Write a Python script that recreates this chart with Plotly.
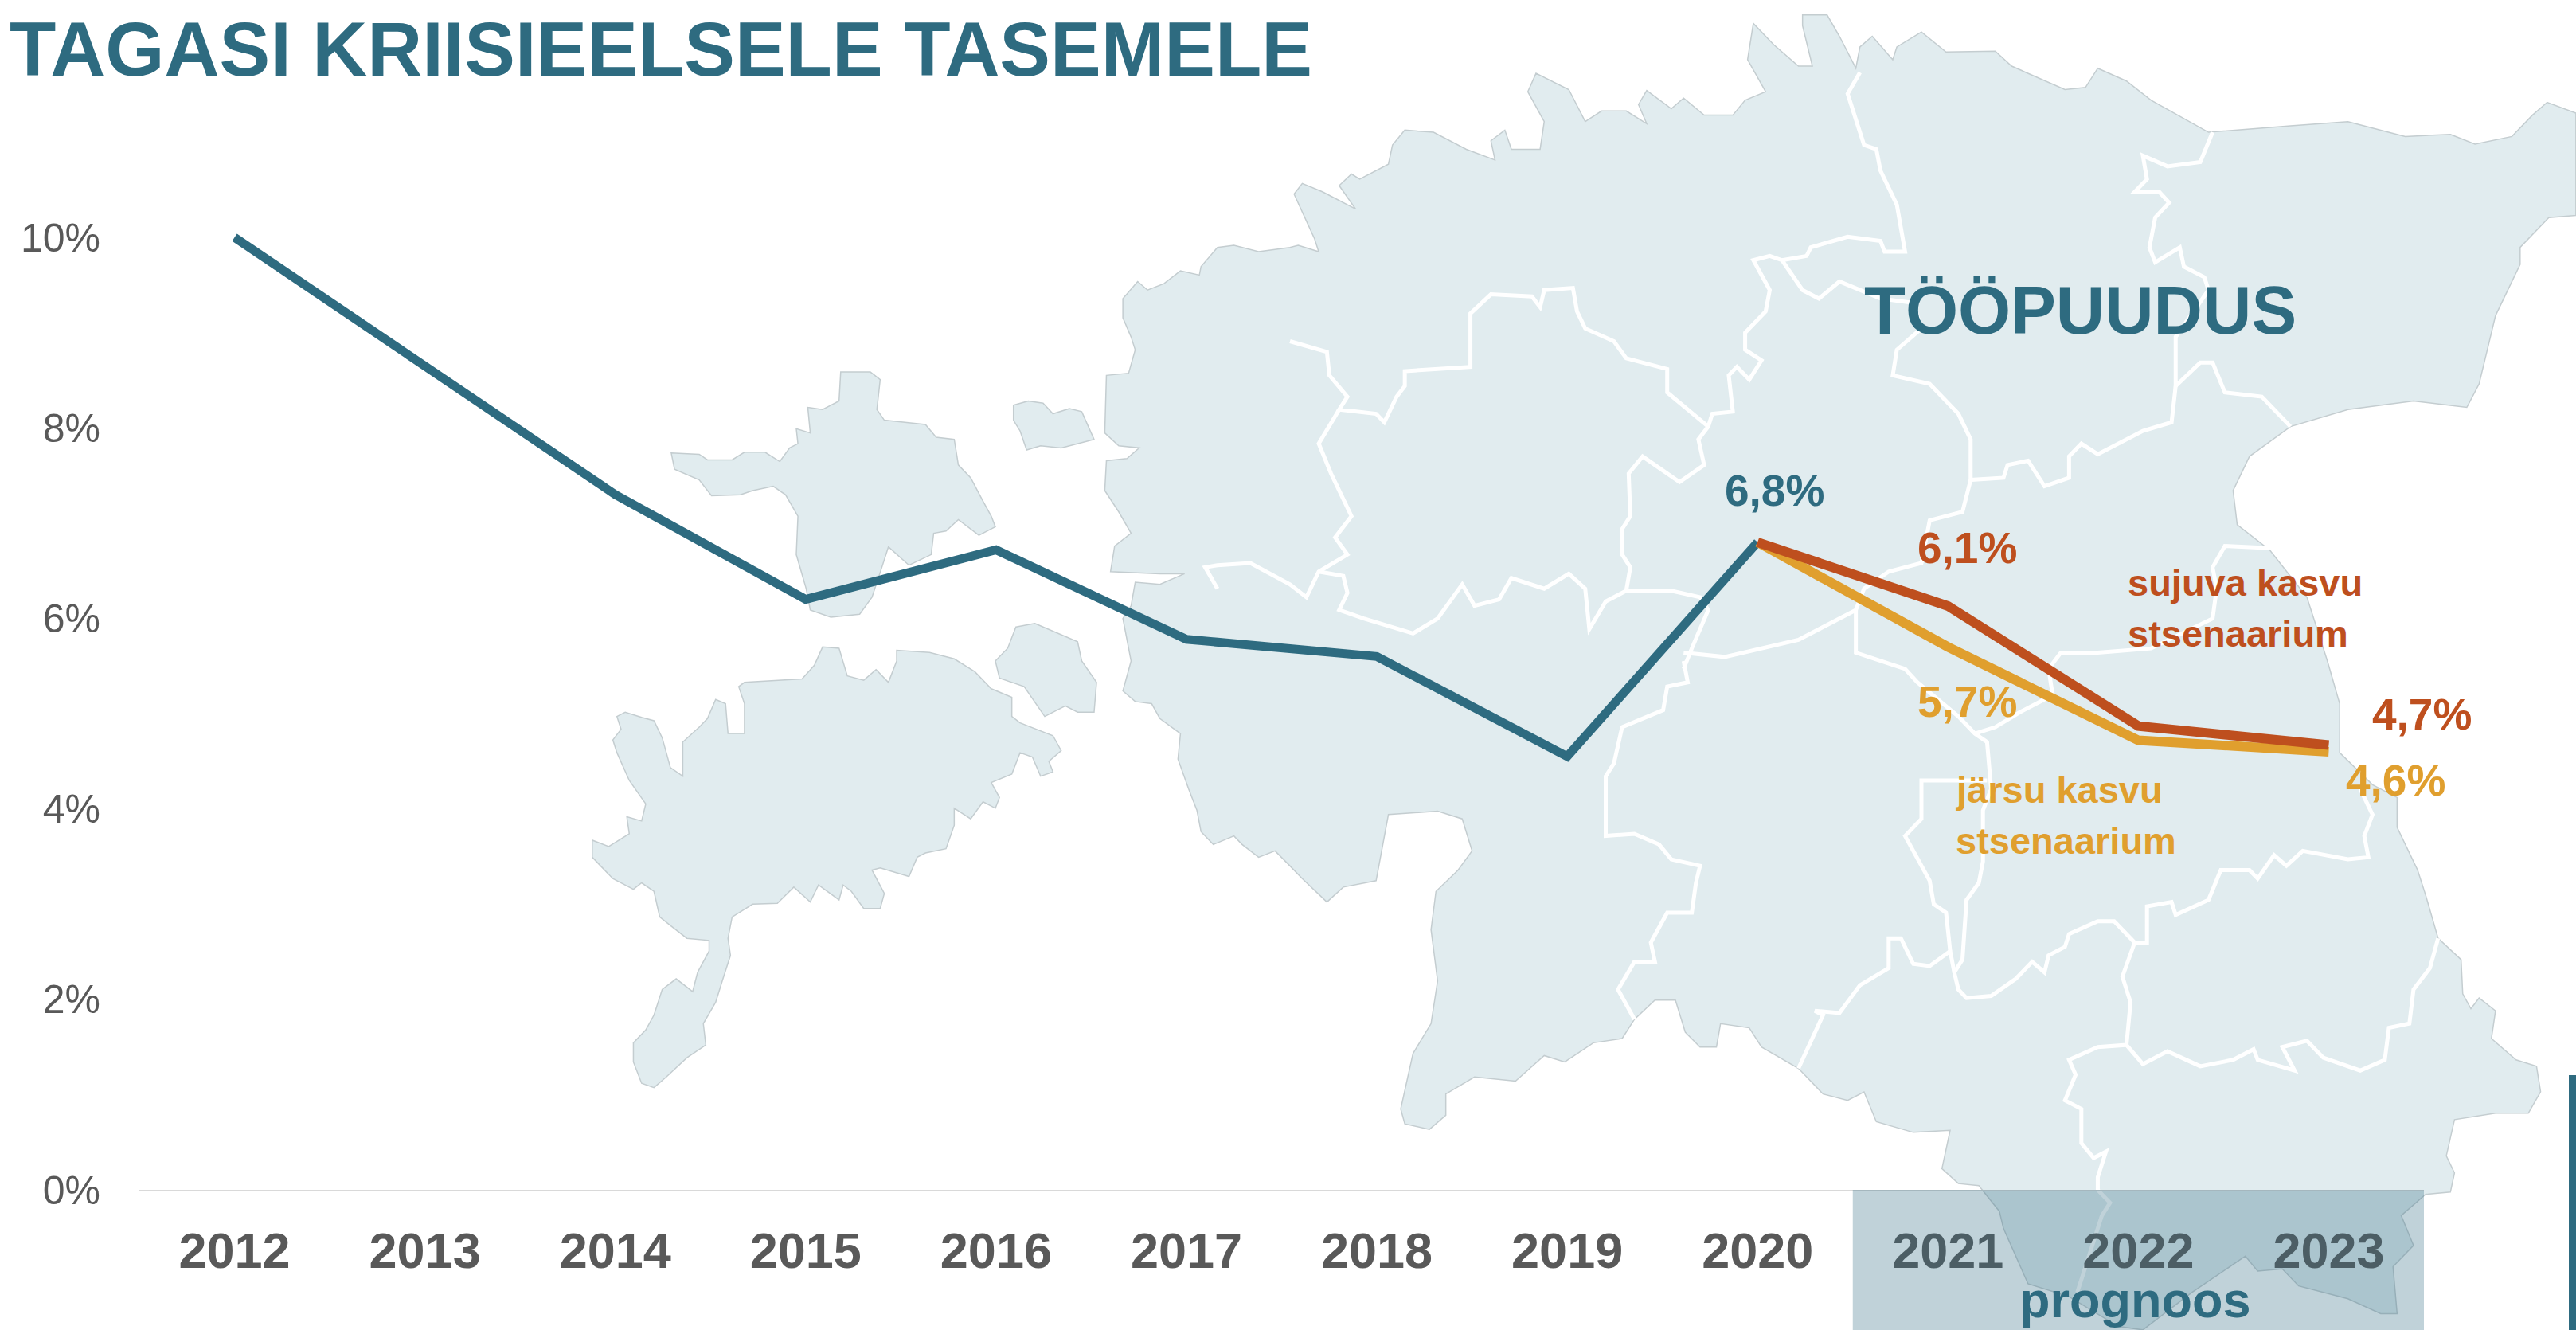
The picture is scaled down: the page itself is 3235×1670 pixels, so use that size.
import plotly.graph_objects as go

W, H = 3235, 1670
years = ["2012","2013","2014","2015","2016","2017","2018","2019","2020","2021","2022","2023"]
actual = [10.0, 8.65, 7.3, 6.2, 6.72, 5.78, 5.6, 4.55, 6.8]
smooth_years = ["2020","2021","2022","2023"]
smooth = [6.8, 6.13, 4.87, 4.67]
sharp = [6.8, 5.7, 4.72, 4.6]
y_ticks = [0, 2, 4, 6, 8, 10]
y_tick_labels = ["0%", "2%", "4%", "6%", "8%", "10%"]

TEAL, RED, GOLD, GREY = "#2E6B80", "#BE4F1E", "#E09F2E", "#595959"
LAND, COAST = "#E1ECEF", "#C4CDD0"
FONT = "Liberation Sans"

# ---- decorative background map (crop frames) ----
def f1(p): return [(x/0.968, y/1.867) for x, y in p]
def f2(p): return [(1620+x/0.971, y/1.867) for x, y in p]
def f3(p): return [(x/0.968, 830+y/1.867) for x, y in p]
def f4(p): return [(1620+x/0.971, 830+y/1.867) for x, y in p]

hiiumaa = f1([(816,1062),(850,1065),(860,1078),(890,1078),(905,1060),(930,1060),(948,1082),(960,1050),(970,1040),(968,1005),(985,1015),(982,955),(1000,960),(1020,940),(1022,872),(1058,872),(1070,890),(1066,960),(1075,985),(1100,990),(1125,995),(1138,1025),(1160,1030),(1165,1090),(1180,1120),(1195,1175),(1205,1210),(1210,1235),(1190,1255),(1165,1218),(1150,1245),(1135,1250),(1132,1300),(1105,1325),(1080,1282),(1072,1330),(1060,1400),(1045,1440),(1010,1447),(985,1430),(980,1380),(968,1300),(970,1210),(955,1160),(940,1140),(915,1150),(900,1160),(865,1162),(850,1125),(820,1100)])
vormsi = f1([(1232,950),(1250,940),(1268,945),(1280,970),(1300,958),(1315,965),(1330,1030),(1290,1050),(1265,1045),(1248,1055),(1240,1010),(1232,985)])
saaremaa = f3([(750,130),(760,120),(780,132),(795,140),(805,180),(815,250),(830,270),(830,190),(850,155),(860,135),(870,90),(882,100),(885,170),(905,170),(905,100),(898,60),(905,50),(975,42),(990,10),(1000,-33),(1020,-30),(1030,35),(1050,45),(1065,20),(1080,50),(1090,0),(1090,-25),(1130,-20),(1160,-5),(1185,25),(1205,65),(1230,85),(1230,130),(1240,145),(1280,175),(1290,210),(1275,235),(1280,260),(1265,270),(1255,225),(1240,215),(1230,265),(1205,285),(1215,320),(1210,345),(1195,330),(1180,370),(1160,345),(1160,385),(1150,440),(1125,450),(1115,460),(1105,505),(1070,485),(1060,490),(1075,545),(1070,580),(1050,580),(1035,540),(1025,525),(1020,560),(995,525),(985,565),(965,530),(945,568),(915,570),(890,600),(885,650),(888,690),(878,750),(870,800),(855,850),(858,900),(835,930),(810,975),(795,1000),(780,990),(770,940),(770,895),(785,865),(795,830),(805,770),(822,745),(842,775),(848,730),(862,680),(862,655),(835,650),(815,620),(802,600),(795,540),(780,520),(770,535),(745,510),(720,460),(720,420),(740,435),(765,405),(762,365),(780,375),(785,335),(765,280),(750,215),(745,185),(755,160)])
muhu = f3([(1235,-80),(1258,-88),(1310,-45),(1315,0),(1333,50),(1330,120),(1310,120),(1295,105),(1270,130),(1245,60),(1215,40),(1210,0),(1225,-30)])
mainland = (
    f1([(1568,580),(1530,590),(1500,575),(1480,580),(1460,625),(1458,645),(1435,635),(1415,665),(1395,680),(1383,660),(1365,700),(1365,745),(1375,790),(1380,820),(1372,875),(1345,880),(1343,1015),(1360,1045),(1385,1050),(1370,1075),(1345,1080),(1343,1150),(1360,1200),(1375,1250),(1355,1280),(1350,1340),(1410,1345),(1440,1345),(1410,1370),(1380,1365),(1375,1420),(1365,1450)])
    + f3([(1375,0),(1365,70),(1380,95),(1400,100),(1410,135),(1435,170),(1432,230),(1445,300),(1455,350),(1460,400),(1475,430),(1500,410),(1510,430),(1530,460),(1550,445),(1568,480)])
    + f4([(15,510),(45,565),(65,530),(105,515),(120,360),(180,352),(210,370),(222,445),(205,490),(178,540),(172,630),(180,750),(172,850),(150,920),(135,1050),(140,1085),(170,1098),(190,1065),(190,1015),(225,975),(275,985),(310,925),(335,940),(370,895),(405,885),(420,840),(445,795),(470,795),(482,870),(500,905),(520,905),(525,850),(560,860),(575,905),(620,955),(650,1015),(680,1030),(700,1010),(715,1080),(760,1105),(805,1100),(795,1190),(815,1225),(840,1230),(865,1290),(870,1330),(900,1460),(950,1490),(1010,1560),(1040,1568),(1100,1480),(1165,1395),(1180,1430),(1210,1425),(1230,1465),(1290,1495),(1330,1530),(1350,1530),(1345,1420),(1370,1370),(1355,1300),(1385,1250),(1415,1245),(1420,1200),(1410,1160),(1420,1075),(1470,1060),(1510,1060),(1525,1010),(1520,950),(1495,935),(1465,885),(1470,820),(1450,790),(1440,815),(1430,780),(1428,700),(1400,650),(1385,550),(1375,490),(1350,390),(1350,320),(1320,290),(1280,215),(1280,100),(1265,0)])
    + f2([(1240,1400),(1195,1290),(1155,1230),(1150,1150),(1170,1070),(1220,1000),(1290,960),(1370,940),(1435,955),(1450,900),(1470,740),(1500,620),(1500,580),(1535,510),(1568,505),(1568,265),(1533,240),(1515,270),(1490,320),(1445,338),(1415,315),(1360,320),(1290,285),(1220,295),(1120,310),(1050,235),(1020,190),(985,160),(970,205),(945,210),(880,155),(860,120),(800,122),(770,75),(740,110),(735,140),(710,85),(695,110),(690,160),(670,85),(655,35),(625,35),(625,60),(637,155),(620,155),(590,105),(565,55),(558,140),(580,215),(555,235),(540,270),(505,270),(480,230),(465,255),(435,212),(425,245),(435,290),(410,260),(380,260),(360,285),(340,210),(300,172),(290,215),(310,285),(305,350),(270,350),(262,305),(245,330),(250,375),(215,350),(175,310),(140,305),(125,340),(120,385),(85,420),(75,408),(60,435),(80,490),(40,450),(15,430),(5,455),(30,560),(35,590),(10,575)])
)
borders = [
    f2([(1125,310),(1110,380),(1070,390),(1040,365),(1045,420),(1030,450),(1060,450),(1072,475),(1055,510),(1048,580),(1055,615),(1085,580),(1090,625),(1115,650),(1120,680),(1080,790),(1080,905),(1110,850),(1125,850),(1140,920),(1185,930),(1220,1000)]),
    f2([(1080,905),(1075,990),(1040,1010),(985,1065),(965,1040),(950,1070),(950,1120),(920,1140),(900,1080),(875,1090),(870,1120),(830,1125),(830,1030),(815,970),(780,900),(735,880),(740,820),(770,770),(760,710),(720,700),(670,660),(645,700),(625,680),(600,610),(585,600),(565,610),(585,680),(580,730),(555,780),(555,820),(575,845),(560,890),(545,860),(535,880),(540,965),(515,970),(510,1000),(498,1030),(505,1090),(475,1130),(445,1090),(430,1070),(413,1110),(415,1210),(405,1240),(405,1300),(415,1330),(410,1385),(465,1385),(500,1400),(510,1430),(490,1520),(480,1568)]),
    f2([(600,610),(630,600),(635,580),(680,555),(720,565),(725,590),(750,590),(740,480),(720,400),(715,350),(700,340),(680,220),(695,170)]),
    f2([(0,800),(45,825),(48,880),(70,930),(60,960),(105,970),(115,990),(130,930),(140,905),(140,870),(220,860),(220,790),(220,735),(245,690),(295,695),(305,720),(310,680),(345,675),(350,730),(360,770),(395,800),(410,840),(460,865),(460,920),(510,1000)]),
    f2([(60,960),(35,1040),(50,1110),(75,1210),(55,1260),(70,1300),(35,1340),(20,1400),(0,1370)]) + f1([(1520,1320),(1480,1325),(1465,1330),(1480,1380)]),
    f2([(35,1340),(65,1350),(70,1390),(60,1430),(90,1450),(150,1485),(180,1450),(210,1370),(225,1420),(255,1405),(270,1355),(310,1380),(340,1345),(360,1380),(365,1475),(385,1410),(410,1385)]),
    f2([(480,1530),(530,1540),(620,1500),(690,1430),(700,1380),(730,1340),(770,1320),(780,1220),(820,1200),(830,1125)]),
    f2([(690,1430),(690,1530),(750,1568)]) + f4([(765,50),(815,130),(835,170),(850,190),(855,300),(845,350),(845,470),(840,520),(825,560),(820,700),(810,730),(815,770),(825,790),(855,785),(885,745),(905,705),(920,730),(925,690),(945,670),(950,640),(985,610),(1005,610),(1030,660),(1045,660),(1045,575),(1075,565),(1080,595),(1120,560),(1135,490),(1170,490),(1180,510),(1200,455),(1215,480),(1235,445),(1290,465),(1315,460),(1310,410),(1320,360),(1305,300)]),
    f2([(1195,1285),(1140,1280),(1125,1330),(1130,1380),(1125,1450),(1050,1520),(985,1530),(940,1530),(925,1568)]) + f4([(930,80),(890,120),(860,155),(835,170)]),
    f4([(480,0),(485,50),(460,60),(455,115),(405,155),(395,240),(385,270),(385,410),(420,405),(450,430),(465,465),(500,480),(495,520),(490,590),(460,590),(440,660),(445,705),(420,705),(400,770),(420,840)]),
    f4([(620,955),(650,830),(640,820),(670,825),(695,760),(730,720),(730,650),(745,650),(760,710),(780,715),(805,680)]),
    f4([(850,280),(770,280),(770,370),(750,410),(780,515),(785,570),(800,590),(805,680),(810,730)]),
    f4([(1030,660),(1015,740),(1025,800),(1020,900),(985,905),(950,935),(958,970),(945,1030),(965,1050),(965,1130),(980,1165),(995,1150),(985,1210),(985,1240),(1000,1270),(990,1300),(975,1390),(960,1480)]),
    f4([(1020,900),(1040,945),(1070,915),(1110,950),(1150,935),(1175,910),(1180,935),(1225,960),(1210,905),(1240,890),(1260,930),(1305,960),(1335,935),(1340,860),(1365,850),(1370,770),(1390,720),(1400,650)]),
]

def path(pts, closed):
    s = "M" + " L".join(f"{x/W:.5f},{1-y/H:.5f}" for x, y in pts)
    return s + (" Z" if closed else "")

shapes = []
for ring in (hiiumaa, vormsi, saaremaa, muhu, mainland):
    shapes.append(dict(type="path", xref="paper", yref="paper", path=path(ring, True),
                       fillcolor=LAND, line=dict(color=COAST, width=1.5), layer="below"))
for b in borders:
    shapes.append(dict(type="path", xref="paper", yref="paper", path=path(b, False),
                       line=dict(color="white", width=5), layer="below"))
# forecast band and right-edge bar
shapes.append(dict(type="rect", xref="x", yref="paper", x0=8.5, x1=11.5, y0=0, y1=1-1494/H,
                   fillcolor="rgba(46,107,128,0.30)", line=dict(width=0), layer="above"))
shapes.append(dict(type="rect", xref="paper", yref="paper", x0=3226/W, x1=1, y0=0, y1=1-1350/H,
                   fillcolor=TEAL, line=dict(width=0), layer="above"))

fig = go.Figure()
fig.add_trace(go.Scatter(x=years[:len(actual)], y=actual, mode="lines", line=dict(color=TEAL, width=11), hoverinfo="skip"))
fig.add_trace(go.Scatter(x=smooth_years, y=sharp, mode="lines", line=dict(color=GOLD, width=12), hoverinfo="skip"))
fig.add_trace(go.Scatter(x=smooth_years, y=smooth, mode="lines", line=dict(color=RED, width=12), hoverinfo="skip"))

def note(text, x, y, size, color, **kw):
    fig.add_annotation(text=text, x=x/W, y=1-y/H, xref="paper", yref="paper", showarrow=False,
                       font=dict(family=FONT, size=size, color=color),
                       xanchor=kw.get("xanchor", "center"), yanchor="middle", align="left")

def bold(t): return f"<b>{t}</b>"

note(bold("TAGASI KRIISIEELSELE TASEMELE"), 10, 62, 95.5, TEAL, xanchor="left")
note(bold("TÖÖPUUDUS"), 2612, 389, 85, TEAL)
note(bold("6,8%"), 2228, 616, 55, TEAL)
note(bold("6,1%"), 2470, 688, 55, RED)
note(bold("5,7%"), 2470, 881, 55, GOLD)
note(bold("4,7%"), 3041, 897, 55, RED)
note(bold("4,6%"), 3008, 980, 55, GOLD)
note(bold("sujuva kasvu"), 2670, 731, 47, RED, xanchor="left")
note(bold("stsenaarium"), 2670, 796, 47, RED, xanchor="left")
note(bold("järsu kasvu"), 2454, 991, 47, GOLD, xanchor="left")
note(bold("stsenaarium"), 2454, 1055, 47, GOLD, xanchor="left")
note(bold("prognoos"), 2681, 1632, 63, TEAL)

fig.update_layout(
    width=W, height=H, margin=dict(l=0, r=0, t=0, b=0),
    paper_bgcolor="white", plot_bgcolor="rgba(0,0,0,0)", showlegend=False,
    shapes=shapes,
    xaxis=dict(type="category", categoryorder="array", categoryarray=years, tickmode="array",
               tickvals=years, ticktext=[bold(y) for y in years], range=[-0.5, 11.5],
               domain=[175/W, 3044/W], showgrid=False, zeroline=False, showline=True,
               linecolor="#D9D9D9", linewidth=2, ticks="outside", ticklen=20,
               tickcolor="rgba(0,0,0,0)", tickfont=dict(family=FONT, size=63, color=GREY), anchor="y", automargin=False),
    yaxis=dict(range=[0, 12], domain=[1-1494/H, 1-59/H], tickmode="array", tickvals=y_ticks,
               ticktext=y_tick_labels, showgrid=False, zeroline=False, showline=False,
               ticks="outside", ticklen=38, tickcolor="rgba(0,0,0,0)",
               tickfont=dict(family=FONT, size=50, color=GREY), anchor="x", automargin=False),
)
fig.write_html("out.html", post_script="document.body.style.margin='0';", config=dict(displayModeBar=False))
